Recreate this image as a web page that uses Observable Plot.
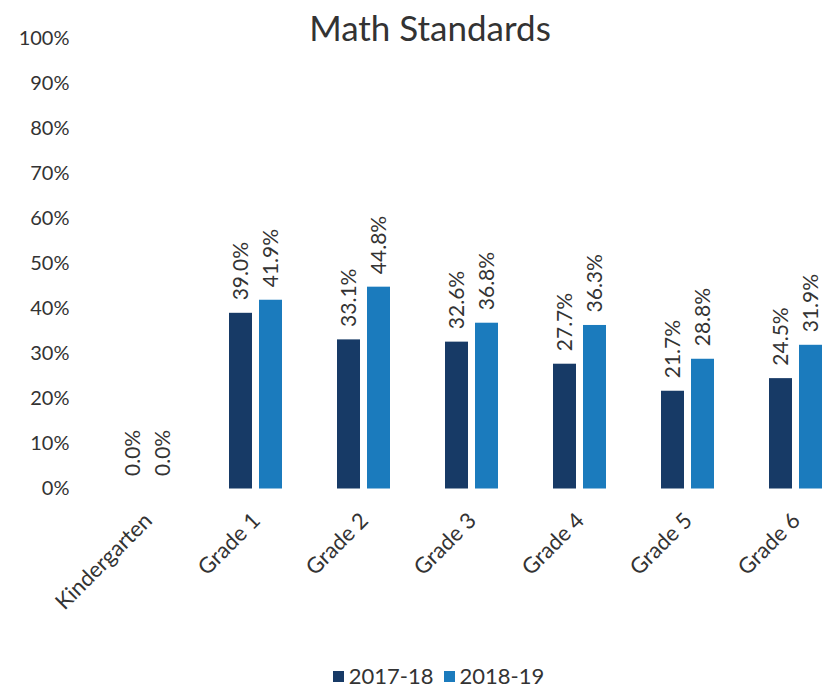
<!DOCTYPE html>
<html>
<head>
<meta charset="utf-8">
<script src="https://cdn.jsdelivr.net/npm/d3@7"></script>
<script src="https://cdn.jsdelivr.net/npm/@observablehq/plot@0.6"></script>
<style>
  html, body { margin: 0; padding: 0; background: #ffffff; overflow: hidden; }
  #wrap { position: relative; width: 824px; height: 689px; overflow: hidden; font-family: Lato, "Open Sans", sans-serif; }
  #title { position: absolute; top: 6px; left: 0; width: 860px; text-align: center; font-size: 35px; color: #333; }
  #chart { position: absolute; top: 0; left: 0; width: 900px; }
  #chart svg { max-width: none !important; }
  #chart svg g[aria-label="fx-axis tick label"] text { font-size: 22px; }
  #chart svg g[aria-label="y-axis tick label"] text { font-size: 20px; }
  #legend { position: absolute; top: 662px; left: 0; width: 877px; text-align: center; font-size: 22px; color: #333; }
  .sw { display: inline-block; width: 11px; height: 11px; margin-right: 5px; vertical-align: 2px; }
  .item { margin: 0 5px; }
</style>
</head>
<body>
<div id="wrap">
  <div id="title">Math Standards</div>
  <div id="chart"></div>
  <div id="legend"></div>
</div>
<script>
const grades = ["Kindergarten", "Grade 1", "Grade 2", "Grade 3", "Grade 4", "Grade 5", "Grade 6"];
const years = ["2017-18", "2018-19"];
const values2017 = [0.000, 0.390, 0.331, 0.326, 0.277, 0.217, 0.245];
const values2018 = [0.000, 0.419, 0.448, 0.368, 0.363, 0.288, 0.319];
const colors = ["#173a66", "#1b7bbd"];
const yTicks = [0, 0.1, 0.2, 0.3, 0.4, 0.5, 0.6, 0.7, 0.8, 0.9, 1.0];

const data = [];
grades.forEach((g, i) => {
  data.push({grade: g, year: years[0], value: values2017[i]});
  data.push({grade: g, year: years[1], value: values2018[i]});
});

const fmt = d3.format(".1%");

const plot = Plot.plot({
  width: 900,
  height: 620,
  marginLeft: 92,
  marginRight: 48,
  marginTop: 38,
  marginBottom: 131.5,
  style: {background: "transparent", fontFamily: "Lato, 'Open Sans', sans-serif", fontSize: "20px", color: "#333", maxWidth: "none"},
  fx: {domain: grades, paddingInner: 0.5, paddingOuter: 0.25, label: null, tickRotate: -45, tickSize: 0, tickPadding: 28},
  x: {domain: years, paddingInner: 0.23, paddingOuter: 0, axis: null},
  y: {domain: [0, 1], ticks: yTicks, tickFormat: d3.format(".0%"), tickSize: 0, tickPadding: 52, label: null},
  color: {domain: years, range: colors},
  marks: [
    Plot.barY(data, {fx: "grade", x: "year", y: "value", fill: "year"}),
    Plot.text(data, {fx: "grade", x: "year", y: "value", text: d => fmt(d.value), rotate: -90, textAnchor: "start", dy: -13, fill: "#333", fontSize: 21})
  ]
});
document.getElementById("chart").appendChild(plot);

const legend = document.getElementById("legend");
legend.innerHTML = years.map((y, i) => `<span class="item"><span class="sw" style="background:${colors[i]}"></span>${y}</span>`).join("");
</script>
</body>
</html>
